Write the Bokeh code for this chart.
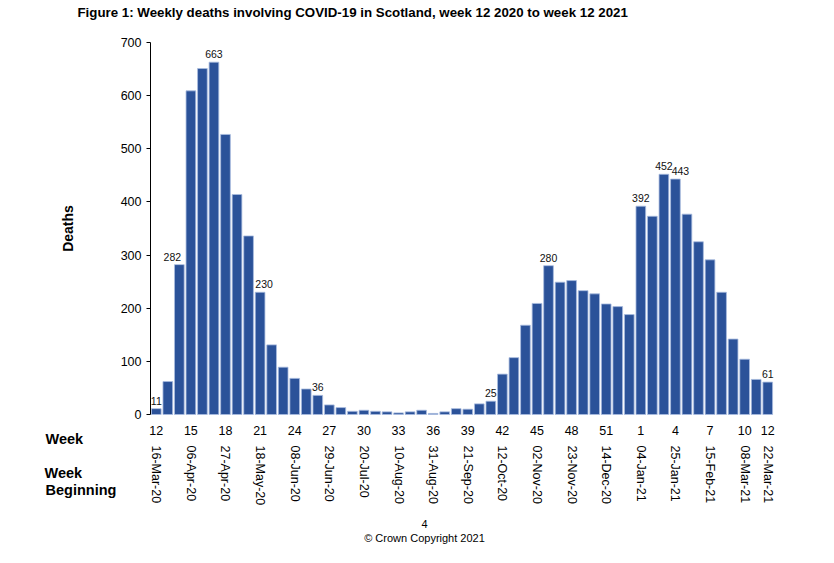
from bokeh.plotting import figure
from bokeh.models import ColumnDataSource, Range1d, LinearAxis, FixedTicker, Label
from bokeh.core.properties import value
from bokeh.embed import file_html
from bokeh.resources import INLINE

# ---------------- data ----------------
weeks = list(range(12, 54)) + list(range(1, 13))
deaths = [11, 62, 282, 609, 651, 663, 527, 414, 336, 230,
          131, 89, 68, 48, 36, 18, 13, 6, 8, 6,
          5, 3, 5, 8, 2, 5, 11, 10, 20, 25,
          76, 107, 168, 209, 280, 249, 252, 233, 227, 208,
          203, 188, 392, 373, 452, 443, 377, 325, 291, 230,
          142, 104, 66, 61]

y_ticks = [0, 100, 200, 300, 400, 500, 600, 700]
tick_weeks_idx = [0, 3, 6, 9, 12, 15, 18, 21, 24, 27, 30, 33, 36, 39, 42, 45, 48, 51, 53]
week_beginning = ["16-Mar-20", "06-Apr-20", "27-Apr-20", "18-May-20", "08-Jun-20",
                  "29-Jun-20", "20-Jul-20", "10-Aug-20", "31-Aug-20", "21-Sep-20",
                  "12-Oct-20", "02-Nov-20", "23-Nov-20", "14-Dec-20", "04-Jan-21",
                  "25-Jan-21", "15-Feb-21", "08-Mar-21", "22-Mar-21"]

labelled_idx = [0, 2, 5, 9, 14, 29, 34, 42, 44, 45, 53]
label_dx = [0, -7, 0, 4, 0, 0, 0, 0, 0, 5, 0]   # pixel nudges of value labels

TITLE = "Figure 1: Weekly deaths involving COVID-19 in Scotland, week 12 2020 to week 12 2021"
FOOTER_PAGE = "4"
FOOTER_COPY = "\u00a9 Crown Copyright 2021"

BAR = "#2B5299"
FONT = "Liberation Sans"

# ---------------- layout (pixels) ----------------
W, H = 830, 560
PX_LEFT, PX_RIGHT = 150, 773      # plot area left/right on the canvas
PX_BASE, PX_TOP = 414, 42         # y=0 and y=700 on the canvas
n = len(weeks)
ppx = (PX_RIGHT - PX_LEFT) / n
ppy = (PX_BASE - PX_TOP) / 700.0
x_range = Range1d(-0.5 - PX_LEFT / ppx, -0.5 + (W - PX_LEFT) / ppx)
y_range = Range1d(-(H - PX_BASE) / ppy, PX_BASE / ppy)

xpos = list(range(n))
src = ColumnDataSource(dict(x=xpos, deaths=deaths))
lab_src = ColumnDataSource(dict(
    x=[xpos[i] for i in labelled_idx],
    y=[deaths[i] for i in labelled_idx],
    t=[str(deaths[i]) for i in labelled_idx],
    dx=label_dx,
))

p = figure(width=W, height=H, output_backend="svg", toolbar_location=None,
           x_range=x_range, y_range=y_range, x_axis_type=None, y_axis_type=None,
           min_border=0)
p.outline_line_color = None
p.xgrid.visible = False
p.ygrid.visible = False

p.vbar(x="x", top="deaths", width=0.84, source=src, fill_color=BAR,
       line_color="#A9BCE0", line_width=0.8)

p.text(x="x", y="y", text="t", x_offset="dx", y_offset=-4, source=lab_src,
       text_align="center", text_baseline="bottom",
       text_font=value(FONT), text_font_size="10.5px", text_color="#111111")

# y axis, drawn at the left edge of the bars
ya = LinearAxis(ticker=FixedTicker(ticks=y_ticks), fixed_location=-0.5,
                bounds=(y_ticks[0], y_ticks[-1]))
ya.minor_tick_line_color = None
ya.major_tick_out = 4
ya.major_tick_in = 0
ya.axis_line_color = "#000000"
ya.major_tick_line_color = "#000000"
ya.major_label_text_font = FONT
ya.major_label_text_font_size = "12.5px"
ya.major_label_text_color = "#000000"
ya.major_label_standoff = 5
ya.axis_label = "Deaths"
ya.axis_label_text_font = FONT
ya.axis_label_text_font_style = "bold"
ya.axis_label_text_font_size = "14px"
ya.axis_label_text_color = "#000000"
ya.axis_label_standoff = 42
p.add_layout(ya, "left")


def text_axis(ticks, labels, standoff, size, orient="horizontal"):
    ax = LinearAxis(ticker=FixedTicker(ticks=ticks), fixed_location=0,
                    major_label_overrides={t: s for t, s in zip(ticks, labels)},
                    major_label_orientation=orient)
    ax.axis_line_color = None
    ax.major_tick_line_color = None
    ax.minor_tick_line_color = None
    ax.major_tick_out = 0
    ax.major_tick_in = 0
    ax.major_label_standoff = standoff
    ax.major_label_text_font = FONT
    ax.major_label_text_font_size = size
    ax.major_label_text_color = "#000000"
    p.add_layout(ax, "below")
    return ax

text_axis(tick_weeks_idx, [str(weeks[i]) for i in tick_weeks_idx], 11, "12.5px")
text_axis(tick_weeks_idx, week_beginning, 31, "12.5px", orient="vertical")


def lab(text, px, py, size, bold=False, align="left"):
    p.add_layout(Label(x=px, y=H - py, x_units="screen", y_units="screen", text=text,
                       text_font=FONT, text_font_size=size,
                       text_font_style="bold" if bold else "normal",
                       text_align=align, text_baseline="middle", text_color="#000000"))

lab(TITLE, 77, 12, "13.3px", bold=True)
lab("Week", 45, 438, "14.5px", bold=True)
lab("Week", 44, 472, "14.5px", bold=True)
lab("Beginning", 45, 489, "14.5px", bold=True)
lab(FOOTER_PAGE, 424, 523, "11px", align="center")
lab(FOOTER_COPY, 424, 537, "11px", align="center")

open("out.html", "w").write(file_html(p, INLINE))
